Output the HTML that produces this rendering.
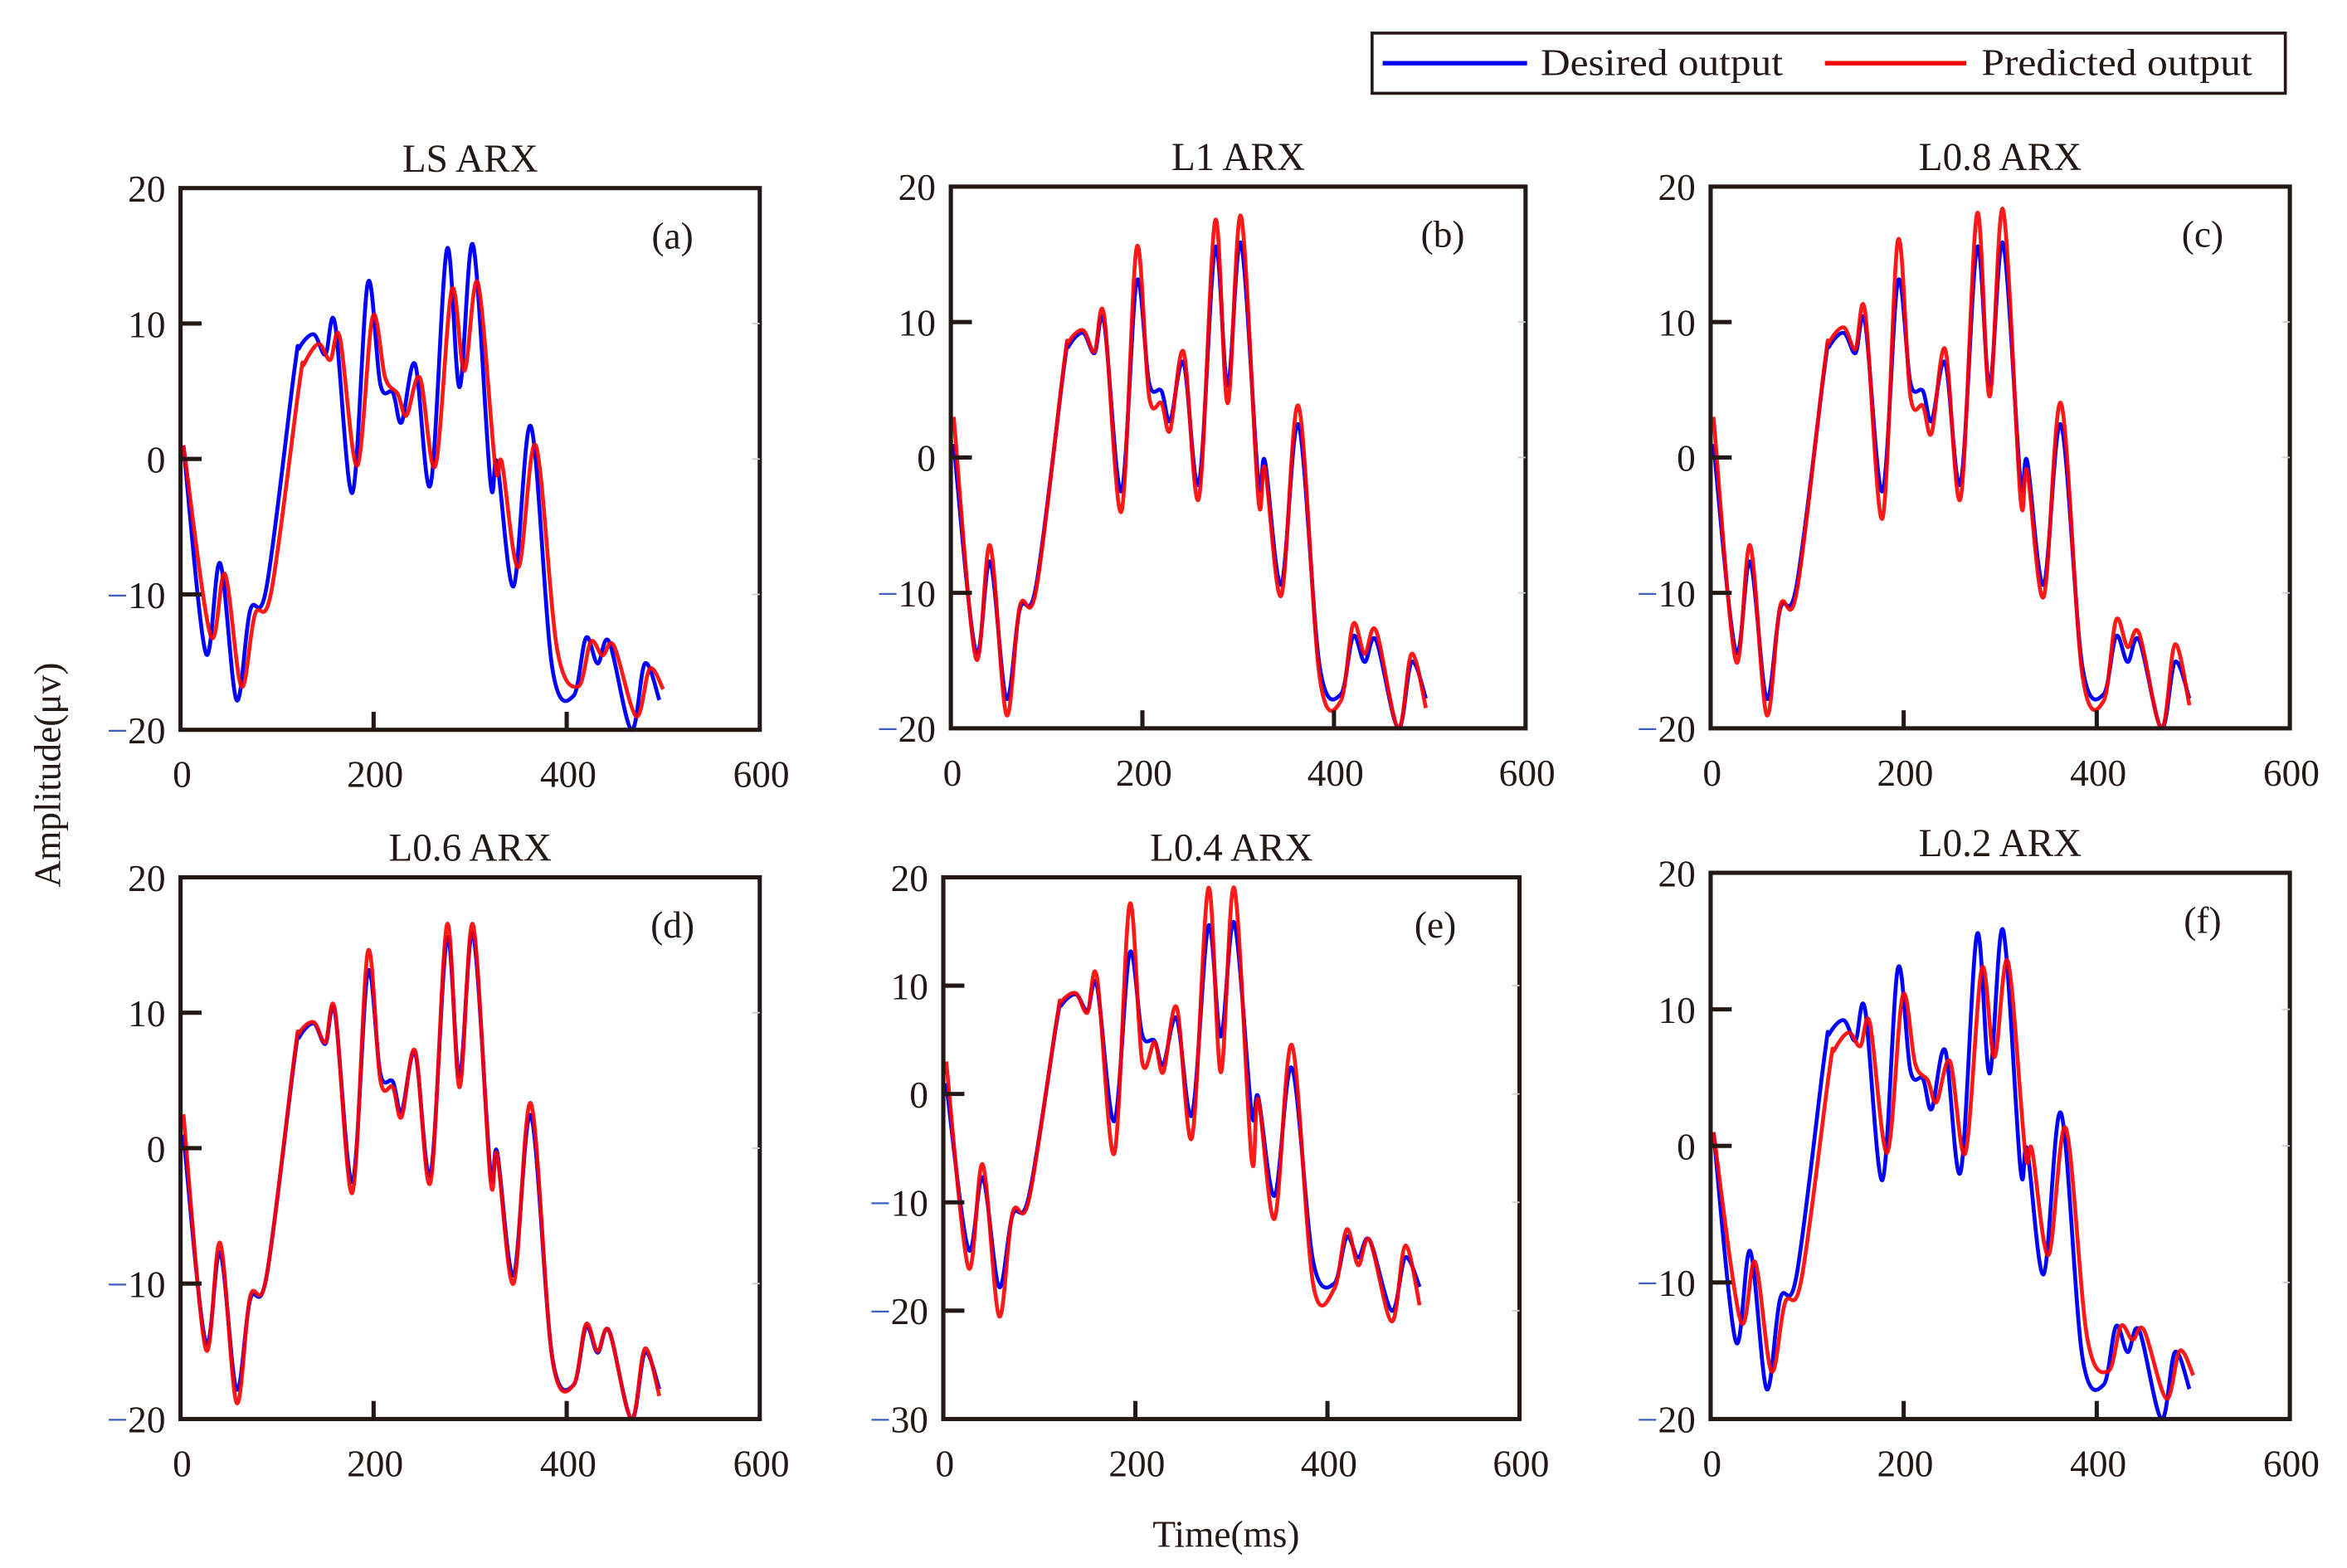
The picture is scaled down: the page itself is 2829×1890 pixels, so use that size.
<!DOCTYPE html>
<html><head><meta charset="utf-8"><style>
html,body{margin:0;padding:0;background:#fff;}
svg{display:block;}
text{font-family:"Liberation Serif",serif;fill:#231815;}
</style></head><body>
<svg id="fig" width="2829" height="1890" viewBox="0 0 1560 1042" preserveAspectRatio="none" xmlns="http://www.w3.org/2000/svg">
<g>
<rect x="912" y="22" width="607" height="40" fill="#fff" stroke="#231815" stroke-width="2"/>
<line x1="919" y1="42" x2="1015" y2="42" stroke="#0000ff" stroke-width="3"/>
<text x="1024" y="50" font-size="25" textLength="161" lengthAdjust="spacingAndGlyphs">Desired output</text>
<line x1="1213" y1="42" x2="1307" y2="42" stroke="#ff0000" stroke-width="3"/>
<text x="1317" y="50" font-size="25" textLength="180" lengthAdjust="spacingAndGlyphs">Predicted output</text>
</g>
<text transform="translate(40,515) rotate(-90)" text-anchor="middle" font-size="25">Amplitude(μv)</text>
<text x="815" y="1028" text-anchor="middle" font-size="25">Time(ms)</text>
</svg>
<script>
// shared time axis (ms) for desired signal
const times = [3,26,41,58,72,89,118,123,138,150,160,178,194,207,220,229,243,259,276,289,303,321,328,345,363,385,407,420,432,444,467,481,496];
const timesLag = [3,31,46,63,77,94,123,128,143,155,165,183,199,212,225,234,248,264,281,294,308,326,333,350,368,390,412,425,437,449,472,486,500];
const desired = [1,-14.3,-7.7,-17.8,-11.2,-9.5,6.6,8.2,9.2,7.7,10,-2.5,13,5.5,4.9,2.7,7,-1.9,15.5,5.3,15.8,-1.7,-0.3,-9.4,2.4,-15.4,-17.5,-13.2,-15.1,-13.5,-20,-15.1,-17.8];
const predA = [1,-13,-8.5,-16.8,-11.5,-9.8,5.5,7,8.5,7.3,9,-0.5,10.5,6,4.8,3.2,6,-0.5,12.5,6.5,13,-0.5,-0.3,-8,1,-14,-16.8,-13.5,-14.5,-13.8,-19,-15.5,-17];
const predB = [3,-14.8,-6.5,-19,-11,-9.8,6.8,8.5,9.4,7.8,10.5,-4,15.5,4.5,4,2,7.8,-3,17.5,4,17.8,-3,-0.8,-10.2,3.8,-16.2,-18,-12.3,-14.5,-12.8,-20,-14.5,-18.5];
const predC = [3,-15,-6.5,-19,-11,-10,6.8,8.5,9.6,8,10.8,-4.5,16,4.5,3.8,1.8,8,-3,18,4.5,18.3,-3,-1,-10.3,4,-16,-18,-12,-14,-13,-20,-13.8,-18.3];
const predD = [2.5,-14.8,-7,-18.8,-11,-9.5,6.8,8.5,9.3,7.8,10.2,-3.3,14.5,5,4.5,2.3,7.2,-2.5,16.5,4.5,16.5,-2.3,-0.5,-10,3.3,-15.5,-17.5,-13,-15,-13.5,-20,-14.8,-18.3];
const predE = [3,-16,-6.5,-20.5,-11,-9.8,6.8,8.5,9.3,7.5,10.8,-5.5,17.5,3,4.8,2,8,-4,19,2,19,-6,-0.5,-11.5,4.5,-17.5,-18,-12.5,-15.8,-13.5,-21,-14,-19.5];
const predF = [1,-12.8,-8.5,-16.5,-11.5,-9.8,5.5,7,8.3,7.3,9,-0.5,11,6,4.8,3.2,6.2,-0.5,13,6.5,13.5,-0.5,-0.3,-8,1.3,-14,-16.5,-13.2,-14.2,-13.5,-18.5,-15,-16.8];
const xTicks = [0,200,400,600];
const yTicksA = [20,10,0,-10,-20];
const yTicksE = [20,10,0,-10,-20,-30];
const titles = ["LS ARX","L1 ARX","L0.8 ARX","L0.6 ARX","L0.4 ARX","L0.2 ARX"];
const tags = ["(a)","(b)","(c)","(d)","(e)","(f)"];

const NS = "http://www.w3.org/2000/svg";
const svg = document.getElementById('fig');
const layouts = [
 {l:120,r:505,t:125,b:485,ymin:-20,ymax:20,yt:yTicksA,pred:predA,pt:timesLag},
 {l:632,r:1014,t:124,b:484,ymin:-20,ymax:20,yt:yTicksA,pred:predB,pt:times},
 {l:1137,r:1522,t:124,b:484,ymin:-20,ymax:20,yt:yTicksA,pred:predC,pt:times},
 {l:120,r:505,t:583,b:943,ymin:-20,ymax:20,yt:yTicksA,pred:predD,pt:times},
 {l:627,r:1010,t:583,b:943,ymin:-30,ymax:20,yt:yTicksE,pred:predE,pt:times},
 {l:1137,r:1522,t:580,b:943,ymin:-20,ymax:20,yt:yTicksA,pred:predF,pt:timesLag}
];
function mk(tag, attrs, parent){const e=document.createElementNS(NS,tag);for(const k in attrs)e.setAttribute(k,attrs[k]);parent.appendChild(e);return e;}
function smooth(pts){
  let d="M"+pts[0][0].toFixed(2)+","+pts[0][1].toFixed(2);
  for(let i=0;i<pts.length-1;i++){
    const p0=pts[Math.max(0,i-1)],p1=pts[i],p2=pts[i+1],p3=pts[Math.min(pts.length-1,i+2)];
    const c1=[p1[0]+(p2[0]-p0[0])/6,p1[1]+(p2[1]-p0[1])/6];
    const c2=[p2[0]-(p3[0]-p1[0])/6,p2[1]-(p3[1]-p1[1])/6];
    d+=" C"+c1[0].toFixed(2)+","+c1[1].toFixed(2)+" "+c2[0].toFixed(2)+","+c2[1].toFixed(2)+" "+p2[0].toFixed(2)+","+p2[1].toFixed(2);
  }
  return d;
}
layouts.forEach((L,i)=>{
  const g=mk('g',{},svg);
  
  
  const xs=v=>L.l+(v-0)/(600-0)*(L.r-L.l);
  const ys=v=>L.b-(v-L.ymin)/(L.ymax-L.ymin)*(L.b-L.t);
  const blue=mk('path',{d:smooth(times.map((t,k)=>[xs(t),ys(desired[k])])),fill:'none',stroke:'#0000ff','stroke-width':2.6,'stroke-linejoin':'round'},g);
  
  
  const red=mk('path',{d:smooth(L.pt.map((t,k)=>[xs(t),ys(L.pred[k])])),fill:'none',stroke:'#ff0000','stroke-width':2.6,'stroke-linejoin':'round','stroke-opacity':0.9},g);
  
  
  const fr=mk('rect',{x:L.l,y:L.t,width:L.r-L.l,height:L.b-L.t,fill:'none',stroke:'#231815','stroke-width':2.8},g);
  
  
  L.yt.forEach(v=>{
    const y=ys(v);
    if(v!==L.ymax&&v!==L.ymin){
      const tk=mk('line',{x1:L.l,y1:y,x2:L.l+14,y2:y,stroke:'#231815','stroke-width':2.8},g);
      
      
      mk('line',{x1:L.r,y1:y,x2:L.r-5,y2:y,stroke:'#ccc','stroke-width':1},g);
    }
    const tx=mk('text',{x:L.l-10,y:y+9,'text-anchor':'end','font-size':25},g);
    
    
    if(v<0){const s=mk('tspan',{fill:'#4060c0'},tx);s.textContent='−';const s2=mk('tspan',{},tx);s2.textContent=String(-v);}
    else tx.textContent=String(v);
  });
  xTicks.forEach(v=>{
    const x=xs(v);
    if(v!==0&&v!==600){
      const tk=mk('line',{x1:x,y1:L.b,x2:x,y2:L.b-12,stroke:'#231815','stroke-width':2.8},g);
      
      
    }
    const tx=mk('text',{x:x+1,y:L.b+38,'text-anchor':'middle','font-size':25},g);
    
    
    tx.textContent=String(v);
  });
  const ti=mk('text',{x:(L.l+L.r)/2,y:L.t-11,'text-anchor':'middle','font-size':26},g);
  
  
  ti.textContent=titles[i];
  const tg=mk('text',{x:L.l+327,y:L.t+40,'text-anchor':'middle','font-size':25},g);
  
  
  tg.textContent=tags[i];
});
</script>
</body></html>
